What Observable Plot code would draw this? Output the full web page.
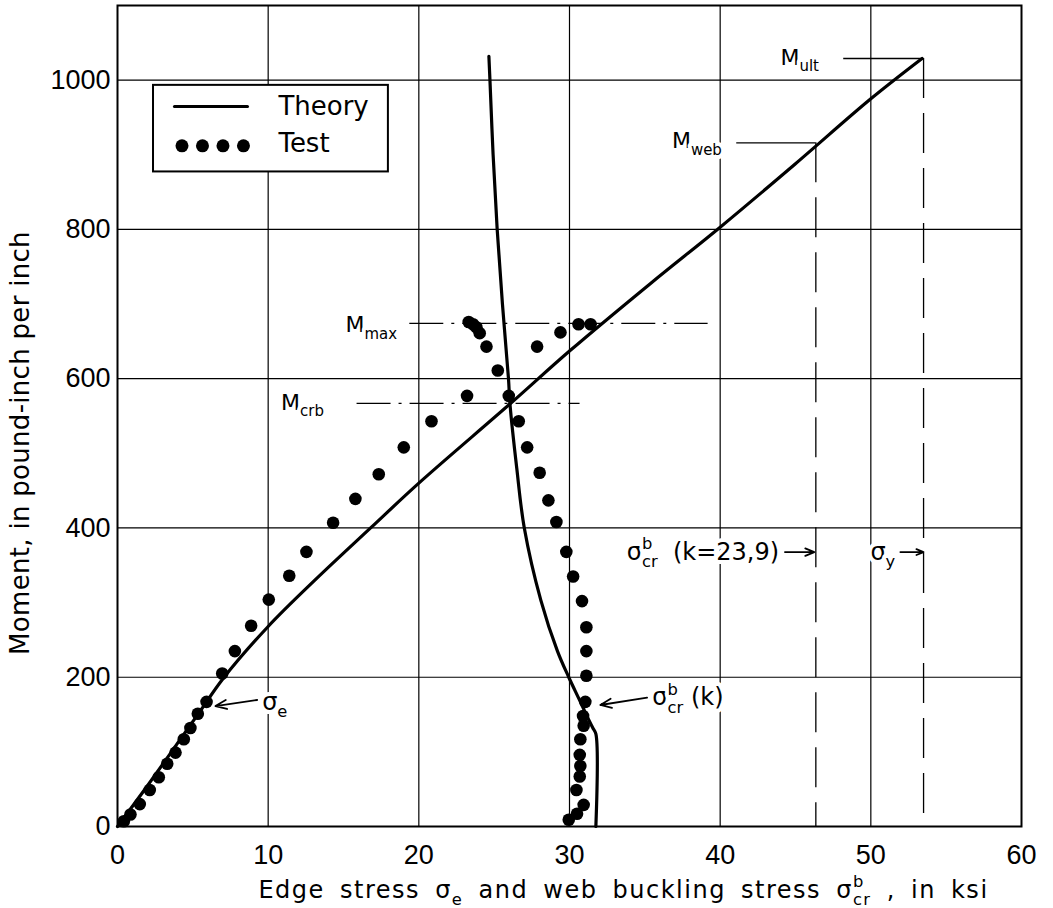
<!DOCTYPE html>
<html><head><meta charset="utf-8">
<script src="https://cdn.jsdelivr.net/npm/d3@7"></script>
<script src="https://cdn.jsdelivr.net/npm/@observablehq/plot@0.6"></script>
<style>
html,body{margin:0;padding:0;background:#fff;}
</style>
</head><body>
<div id="chart"></div>
<script>
// ---- axes ----
const xTicks = [0, 10, 20, 30, 40, 50, 60];
const yTicks = [0, 200, 400, 600, 800, 1000];
const xLabel = "Edge stress σ_{e} and web buckling stress σ^{b}_{cr} , in ksi";
const yLabel = "Moment, in pound-inch per inch";

// ---- theory curves ----
const theoryEdgeStress = [0, 2, 4, 5.5, 7, 10, 13.1, 16.8, 20, 26.1, 30, 35.4, 40, 45, 50, 53.4];
const theoryEdgeMoment = [0, 55, 112, 155, 198, 268, 330, 400, 460, 567, 637, 728, 803, 888, 975, 1029];
const theoryWebStress = [31.75, 31.75, 31.55, 31.2, 30.7, 29.95, 29.2, 28.1, 27.0, 26.5, 26.05, 25.95, 25.55, 25.2, 24.93, 24.72, 24.65];
const theoryWebMoment = [0, 124, 132, 146, 168, 200, 235, 303, 400, 480, 566, 600, 700, 800, 900, 1000, 1032];

// ---- test points ----
const testEdgeStress = [0.42, 0.86, 1.48, 2.14, 2.74, 3.30, 3.85, 4.40, 4.84, 5.33, 5.91, 6.95, 7.79, 8.87, 10.04, 11.4, 12.54, 14.31, 15.79, 17.34, 19.0, 20.84, 23.2, 27.85, 29.4, 30.6, 31.4];
const testEdgeMoment = [7, 16, 30, 49, 66, 84, 99, 117, 132, 151, 167, 205, 235, 269, 304, 336, 368, 407, 439, 472, 508, 543, 577, 643, 662, 673, 673];
const testWebStress = [29.95, 30.5, 30.94, 30.46, 30.68, 30.72, 30.68, 30.72, 30.94, 30.9, 31.05, 31.12, 31.12, 31.12, 30.83, 30.24, 29.79, 29.13, 28.6, 28.02, 27.19, 26.63, 25.97, 25.24, 24.49, 24.04, 23.82, 23.6, 23.31];
const testWebMoment = [9, 17, 29, 49, 67, 81, 96, 117, 135, 148, 167, 202, 235, 267, 302, 335, 368, 408, 437, 474, 508, 543, 577, 611, 643, 661, 669, 673, 676];

// ---- reference lines (data units) ----
const solidRefX1 = [48.2, 41.1];
const solidRefX2 = [53.5, 46.35];
const solidRefY = [1029, 916];
const dashedRefX = [53.5, 46.35];
const dashedRefTop = [1029, 916];
const dashDotX1 = [19.4, 15.9];
const dashDotX2 = [39.2, 30.7];
const dashDotY = [674, 567];

// ---- annotations ----
const mLabels = ["M_{ult}", "M_{web}", "M_{max}", "M_{crb}"];
const mLabelX = [44.0, 36.8, 15.13, 10.86];
const mLabelY = [1030, 918, 672, 568];
const sLabels = ["σ_{e}", "σ^{b}_{cr} (k)", "σ^{b}_{cr}  (k=23,9)", "σ_{y}"];
const sLabelX = [9.6, 35.5, 33.8, 49.97];
const sLabelY = [166, 172.5, 367.7, 367.7];
const arrowX1 = [9.27, 35.15, 44.3, 51.96];
const arrowY1 = [169.5, 172.6, 367.7, 367.7];
const arrowX2 = [6.5, 32.05, 46.25, 53.5];
const arrowY2 = [161.4, 162.8, 367.7, 367.7];

// ---- legend (data units) ----
const legendLabels = ["Theory", "Test"];
const legendBoxX = [2.39, 17.98];
const legendBoxY = [877, 993];
const legendLineX = [3.78, 8.63];
const legendLineY = 964.6;
const legendDotX = [4.28, 5.64, 7.0, 8.36];
const legendDotY = 912;
const legendTextX = 10.68;
const legendTextY = [964.6, 915];

const zip = (xs, ys) => xs.map((x, i) => ({x, y: ys[i]}));
const theoryEdge = zip(theoryEdgeStress, theoryEdgeMoment);
const theoryWeb = zip(theoryWebStress, theoryWebMoment);
const testPts = zip(testEdgeStress, testEdgeMoment).concat(zip(testWebStress, testWebMoment));
const solidRefs = solidRefX1.map((x1, i) => ({x1, x2: solidRefX2[i], y: solidRefY[i]}));
const dashedRefs = dashedRefX.map((x, i) => ({x, y1: dashedRefTop[i], y2: 0}));
const dashDots = dashDotX1.map((x1, i) => ({x1, x2: dashDotX2[i], y: dashDotY[i]}));
const mAnn = mLabels.map((t, i) => ({t, x: mLabelX[i], y: mLabelY[i]}));
const sAnn = sLabels.map((t, i) => ({t, x: sLabelX[i], y: sLabelY[i]}));
const arrows = arrowX1.map((x1, i) => ({x1, y1: arrowY1[i], x2: arrowX2[i], y2: arrowY2[i]}));
const legendText = legendLabels.map((t, i) => ({t, x: legendTextX, y: legendTextY[i]}));

const chart = Plot.plot({
  width: 1053,
  height: 908,
  marginLeft: 117,
  marginRight: 32,
  marginTop: 5,
  marginBottom: 82,
  style: {fontFamily: "DejaVu Sans", fontSize: "24px", background: "white", color: "black"},
  x: {domain: [0, 60]},
  y: {domain: [0, 1100]},
  marks: [
    Plot.ruleX(xTicks.slice(1, -1), {stroke: "black", strokeWidth: 1.2}),
    Plot.ruleY(yTicks.slice(1), {stroke: "black", strokeWidth: 1.2}),
    Plot.ruleY(solidRefs, {x1: "x1", x2: "x2", y: "y", stroke: "black", strokeWidth: 1.3}),
    Plot.ruleX(dashedRefs, {x: "x", y1: "y1", y2: "y2", stroke: "black", strokeWidth: 1.3, strokeDasharray: "40,15"}),
    Plot.ruleY(dashDots, {x1: "x1", x2: "x2", y: "y", stroke: "black", strokeWidth: 1.3, strokeDasharray: "34,8,3,8"}),
    // legend
    Plot.rect([0], {x1: () => legendBoxX[0], x2: () => legendBoxX[1], y1: () => legendBoxY[0], y2: () => legendBoxY[1], fill: "white", stroke: "black", strokeWidth: 2}),
    Plot.line(legendLineX, {x: d => d, y: () => legendLineY, stroke: "black", strokeWidth: 3}),
    Plot.dot(legendDotX, {x: d => d, y: () => legendDotY, r: 6.5, fill: "black"}),
    Plot.text(legendText, {x: "x", y: "y", text: "t", textAnchor: "start", lineAnchor: "middle", fontSize: 26}),
    // data
    Plot.line(theoryEdge, {x: "x", y: "y", curve: "catmull-rom", stroke: "black", strokeWidth: 3.2}),
    Plot.line(theoryWeb, {x: "x", y: "y", curve: "catmull-rom", stroke: "black", strokeWidth: 3.2}),
    Plot.dot(testPts, {x: "x", y: "y", r: 6.3, fill: "black"}),
    // annotations
    Plot.text(mAnn, {x: "x", y: "y", text: "t", textAnchor: "start", lineAnchor: "middle", fontSize: 22, fill: "black", stroke: "white", strokeWidth: 8}),
    Plot.text(sAnn, {x: "x", y: "y", text: "t", textAnchor: "start", lineAnchor: "middle", fontSize: 24, fill: "black", stroke: "white", strokeWidth: 8}),
    Plot.arrow(arrows, {x1: "x1", y1: "y1", x2: "x2", y2: "y2", stroke: "black", strokeWidth: 1.8, headLength: 10, headAngle: 45}),
    Plot.frame({stroke: "black", strokeWidth: 2}),
    // axes
    Plot.axisX({ticks: xTicks, tickFormat: d => String(d), tickSize: 0, tickPadding: 18, fontSize: 27, fontFamily: "Liberation Sans", label: null}),
    Plot.axisY({ticks: yTicks, tickFormat: d => String(d), tickSize: 0, tickPadding: 7, fontSize: 27, fontFamily: "Liberation Sans", label: null}),
    Plot.text([xLabel], {text: d => d, frameAnchor: "bottom", textAnchor: "middle", lineAnchor: "middle", dy: 64, dx: 54, fontSize: 24}),
    Plot.text([yLabel], {text: d => d, frameAnchor: "left", textAnchor: "middle", lineAnchor: "middle", rotate: -90, dx: -97, dy: 27, fontSize: 26})
  ]
});
document.getElementById("chart").appendChild(chart);

// rich text: _{sub}, ^{sup}, ^{sup}_{sub}
function richText(svg) {
  d3.select(svg).selectAll("text").each(function() {
    const el = this;
    const s = el.textContent;
    if (s === xLabel) { el.style.letterSpacing = "1.5px"; el.style.wordSpacing = "6px"; }
    if (s === yLabel) { el.style.letterSpacing = "0.3px"; }
    if (!/[_^]\{/.test(s)) return;
    const fs = parseFloat(getComputedStyle(el).fontSize);
    const small = fs * 0.68;
    const up = -0.45 * fs, down = 0.3 * fs;
    const sel = d3.select(el);
    sel.text(null);
    let off = 0;
    const re = /\^\{([^}]*)\}_\{([^}]*)\}|\^\{([^}]*)\}|_\{([^}]*)\}|([^_^]+)/g;
    let m;
    while ((m = re.exec(s))) {
      if (m[1] !== undefined) {
        const a = sel.append("tspan").attr("dy", up - off).attr("font-size", small).text(m[1]);
        const w = a.node().getComputedTextLength();
        sel.append("tspan").attr("dx", -w).attr("dy", down - up).attr("font-size", small).text(m[2]);
        off = down;
      } else if (m[3] !== undefined) {
        sel.append("tspan").attr("dy", up - off).attr("font-size", small).text(m[3]); off = up;
      } else if (m[4] !== undefined) {
        sel.append("tspan").attr("dy", down - off).attr("font-size", small).text(m[4]); off = down;
      } else {
        const t = sel.append("tspan").text(m[5]);
        if (off !== 0) t.attr("dy", -off);
        off = 0;
      }
    }
  });
}
richText(chart);
</script>
</body></html>
